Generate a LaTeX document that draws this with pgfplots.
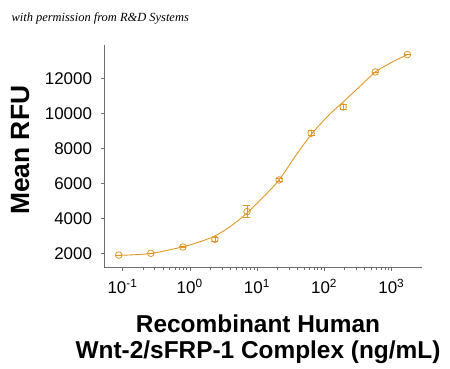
\documentclass[border=0pt]{standalone}
\usepackage{fontspec}
\setmainfont{Liberation Sans}
\newfontfamily\serifit{Liberation Serif}
\usepackage{pgfplots}
\pgfplotsset{compat=1.18}
\definecolor{curvecol}{RGB}{226,150,38}
\definecolor{axgray}{RGB}{110,110,110}
\begin{document}
\begin{tikzpicture}
\path[use as bounding box] (0,0) rectangle (450bp,369bp);
\node[anchor=west,font=\serifit\itshape\fontsize{12.5}{14}\selectfont] at (8bp,351bp) {with permission from R\&D Systems};
\begin{axis}[
  at={(104.5bp,102.3bp)}, anchor=south west,
  scale only axis, width=317.2bp, height=221.7bp,
  xmode=log,
  xmin=0.054, xmax=2830,
  ymin=1234, ymax=13900,
  scaled y ticks=false,
  axis lines=left,
  axis line style={axgray, -},
  every tick/.style={axgray},
  tick align=outside,
  major tick length=4bp, minor tick length=3bp,
  xtick={0.1,1,10,100,1000},
  xticklabels={10\textsuperscript{-1},10\textsuperscript{0},10\textsuperscript{1},10\textsuperscript{2},10\textsuperscript{3}},
  ytick={2000,4000,6000,8000,10000,12000},
  yticklabels={2000,4000,6000,8000,10000,12000},
  tick label style={font=\fontsize{17}{19}\selectfont},
  xticklabel style={yshift=-5bp},
  yticklabel style={xshift=-5bp},
  /pgf/number format/assume math mode=true,
  xlabel={Recombinant Human\\Wnt-2/sFRP-1 Complex (ng/mL)},
  xlabel style={font=\bfseries\fontsize{24.5}{26}\selectfont, align=center, at={(axis description cs:0.484,-0.326)}, anchor=center},
  ylabel={Mean RFU},
  ylabel style={font=\bfseries\fontsize{26.5}{28}\selectfont, at={(axis description cs:-0.266,0.525)}, anchor=center, rotate=0},
  clip=false,
]
\addplot[curvecol, line width=0.9pt, smooth, no marks] coordinates {
(0.0879,1880) (0.2637,1990) (0.791,2370) (1.37,2640) (2.373,2990)
(4.11,3560) (7.12,4300) (12.3,5200) (21.36,6190) (37,7530)
(64.1,8780) (111,9800) (192.2,10650) (333,11500) (576.7,12350)
(1000,12900) (1730,13350)
};
\addplot[curvecol, only marks, mark=o, mark size=3.3bp, line width=0.8pt,
  error bars/.cd, y dir=both, y explicit,
  error bar style={curvecol, line width=0.8pt},
  error mark options={rotate=90, mark size=3.5bp, line width=0.8pt, curvecol}]
coordinates {
(0.0879,1900) +- (0,0)
(0.2637,2000) +- (0,0)
(0.791,2360) +- (0,40)
(2.373,2800) +- (0,100)
(7.12,4380) +- (0,340)
(21.36,6190) +- (0,100)
(64.1,8860) +- (0,150)
(192.2,10360) +- (0,130)
(576.7,12360) +- (0,0)
(1730,13350) +- (0,0)
};
\end{axis}
\end{tikzpicture}
\end{document}
